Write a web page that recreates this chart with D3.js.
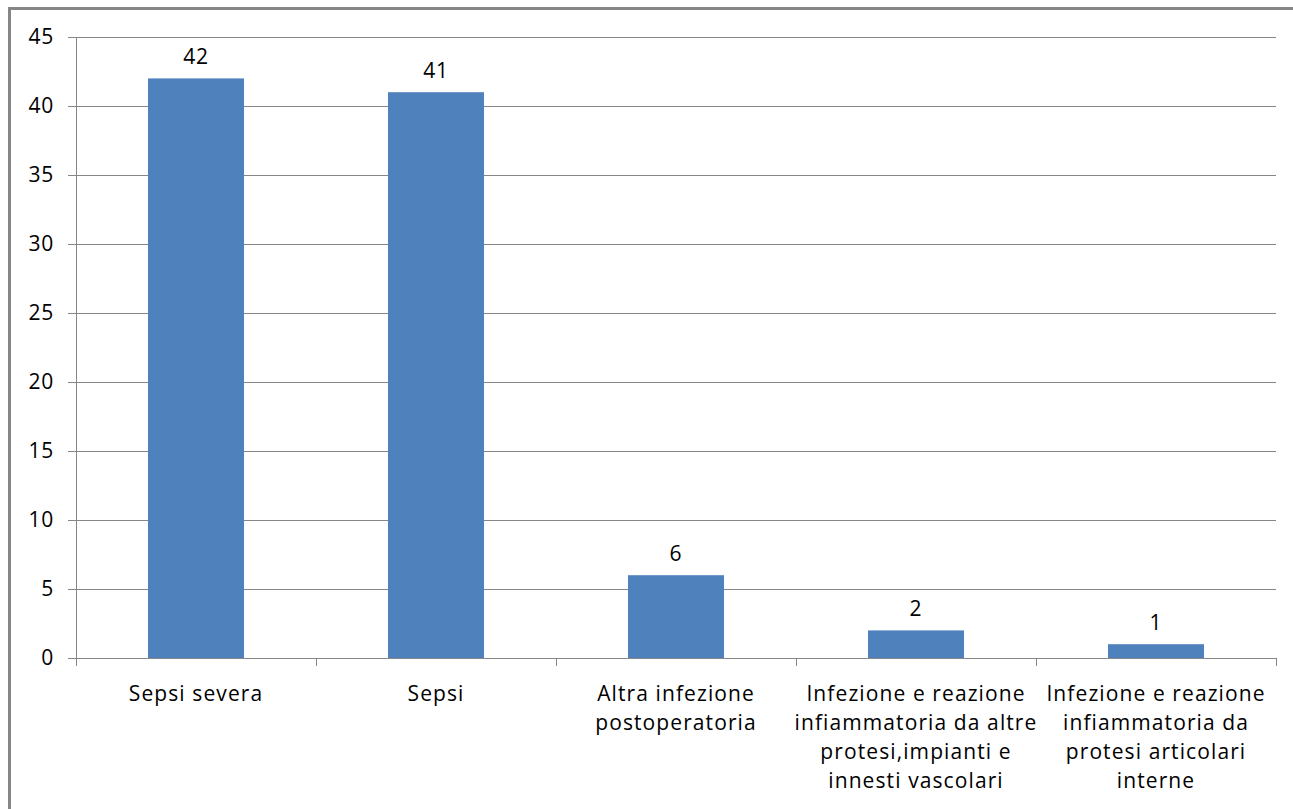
<!DOCTYPE html>
<html>
<head>
<meta charset="utf-8">
<script src="https://cdn.jsdelivr.net/npm/d3@7"></script>
<style>
  body { margin: 0; background: #fff; }
  svg text { font-family: "Open Sans", Lato, sans-serif; fill: #000; font-variant-ligatures: none; }
  .cat { letter-spacing: 1.1px; }
  .num { letter-spacing: 0.8px; }
</style>
</head>
<body>
<svg width="1293" height="809"></svg>
<script>
// chart values
var categories = [
  "Sepsi severa",
  "Sepsi",
  "Altra infezione postoperatoria",
  "Infezione e reazione infiammatoria da altre protesi,impianti e innesti vascolari",
  "Infezione e reazione infiammatoria da protesi articolari interne"
];
var labelLines = [
  ["Sepsi severa"],
  ["Sepsi"],
  ["Altra infezione", "postoperatoria"],
  ["Infezione e reazione", "infiammatoria da altre", "protesi,impianti e", "innesti vascolari"],
  ["Infezione e reazione", "infiammatoria da", "protesi articolari", "interne"]
];
var counts = [42, 41, 6, 2, 1];
var yTicks = [0, 5, 10, 15, 20, 25, 30, 35, 40, 45];

var svg = d3.select("svg");

// outer frame
svg.append("rect")
    .attr("x", 9.5).attr("y", 8.5)
    .attr("width", 1300).attr("height", 820)
    .attr("fill", "none")
    .attr("stroke", "#868686")
    .attr("stroke-width", 3);

var plotLeft = 76, plotRight = 1276, plotTop = 37, plotBottom = 658;

var x = d3.scaleBand()
    .domain(categories)
    .range([plotLeft, plotRight])
    .paddingInner(0.6)
    .paddingOuter(0.3);

var y = d3.scaleLinear()
    .domain([0, 45])
    .range([plotBottom, plotTop]);

// gridlines
svg.append("g")
    .selectAll("line")
    .data(yTicks)
    .enter()
    .append("line")
    .attr("x1", plotLeft - 8).attr("x2", plotRight)
    .attr("y1", function(d){ return Math.round(y(d)) + 0.5; })
    .attr("y2", function(d){ return Math.round(y(d)) + 0.5; })
    .attr("stroke", "#868686")
    .attr("stroke-width", 1);

// y axis labels
svg.append("g")
    .selectAll("text")
    .data(yTicks)
    .enter()
    .append("text")
    .attr("class", "num")
    .attr("x", 54)
    .attr("y", function(d){ return y(d) + 7; })
    .attr("text-anchor", "end")
    .attr("font-size", 21)
    .text(function(d){ return d; });

// y axis line
svg.append("line")
    .attr("x1", plotLeft + 0.5).attr("x2", plotLeft + 0.5)
    .attr("y1", plotTop).attr("y2", plotBottom + 8)
    .attr("stroke", "#868686");

// category boundary ticks
var step = (plotRight - plotLeft) / categories.length;
svg.append("g")
    .selectAll("line")
    .data(d3.range(categories.length + 1))
    .enter()
    .append("line")
    .attr("x1", function(i){ return Math.round(plotLeft + i * step) + 0.5; })
    .attr("x2", function(i){ return Math.round(plotLeft + i * step) + 0.5; })
    .attr("y1", plotBottom).attr("y2", plotBottom + 8)
    .attr("stroke", "#868686");

// bars
svg.append("g")
    .selectAll("rect")
    .data(counts)
    .enter()
    .append("rect")
    .attr("x", function(d, i){ return x(categories[i]); })
    .attr("y", function(d){ return y(d); })
    .attr("width", x.bandwidth())
    .attr("height", function(d){ return plotBottom - y(d); })
    .attr("fill", "#4F81BD");

// value labels
svg.append("g")
    .selectAll("text")
    .data(counts)
    .enter()
    .append("text")
    .attr("class", "num")
    .attr("x", function(d, i){ return x(categories[i]) + x.bandwidth() / 2; })
    .attr("y", function(d){ return y(d) - 14; })
    .attr("text-anchor", "middle")
    .attr("font-size", 21)
    .text(function(d){ return d; });

// category labels
var cat = svg.append("g")
    .selectAll("text")
    .data(labelLines)
    .enter()
    .append("text")
    .attr("class", "cat")
    .attr("text-anchor", "middle")
    .attr("font-size", 21)
    .attr("transform", function(d, i){
        return "translate(" + (x(categories[i]) + x.bandwidth() / 2) + ",701)";
    });
cat.selectAll("tspan")
    .data(function(d){ return d; })
    .enter()
    .append("tspan")
    .attr("x", 0)
    .attr("y", function(d, j){ return j * 29; })
    .text(function(d){ return d; });
</script>
</body>
</html>
